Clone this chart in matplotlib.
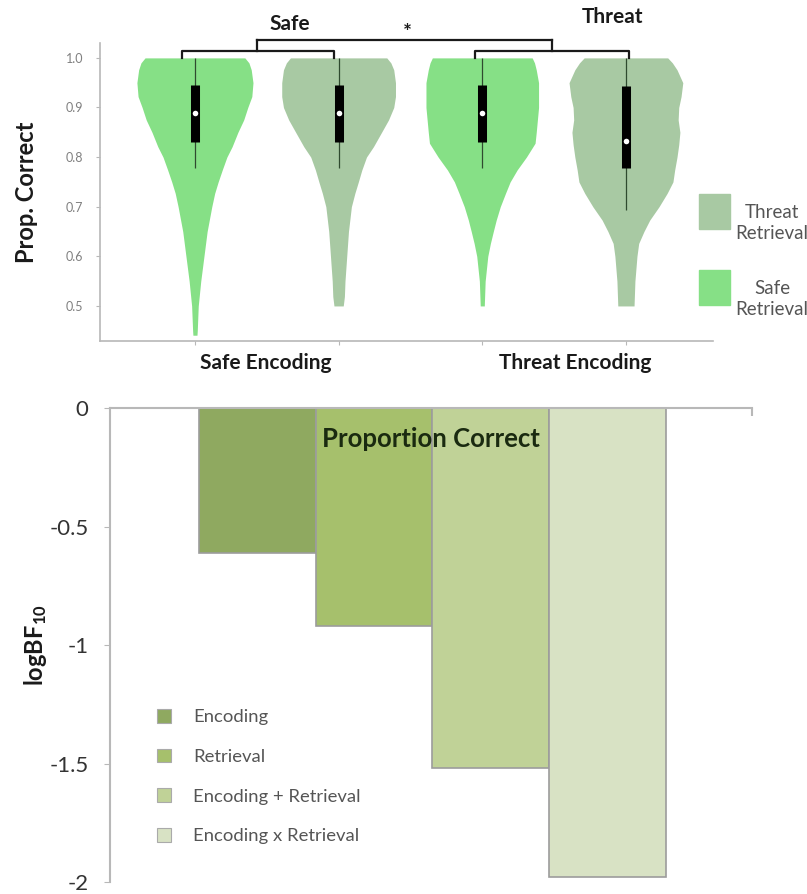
import numpy as np
import matplotlib
matplotlib.use("Agg")
import matplotlib.pyplot as plt
from matplotlib.patches import Patch, Rectangle

plt.rcParams['font.family'] = ['Lato', 'DejaVu Sans']
plt.rcParams['mathtext.default'] = 'regular'

# ---- top panel data: violin profiles (relative half-width at each level)
violin_pos = [1, 2, 3, 4]
violin_cols = ['#86e086', '#a8c9a3', '#86e086', '#a8c9a3']

v1_y = [1.0, 0.99, 0.976, 0.95, 0.922, 0.9, 0.875, 0.85, 0.821, 0.8, 0.774,
        0.75, 0.727, 0.7, 0.65, 0.6, 0.55, 0.5, 0.45, 0.441]
v1_w = [0.86, 0.93, 0.97, 1.0, 0.98, 0.91, 0.84, 0.74, 0.64, 0.55, 0.47,
        0.40, 0.34, 0.29, 0.21, 0.155, 0.10, 0.057, 0.04, 0.035]

v2_y = [1.0, 0.99, 0.976, 0.95, 0.922, 0.9, 0.875, 0.85, 0.821, 0.8, 0.774,
        0.75, 0.727, 0.7, 0.65, 0.6, 0.55, 0.519, 0.5]
v2_w = [0.83, 0.90, 0.95, 0.98, 0.98, 0.95, 0.86, 0.74, 0.60, 0.48, 0.40,
        0.34, 0.28, 0.22, 0.17, 0.14, 0.11, 0.10, 0.08]

v3_y = [1.0, 0.99, 0.976, 0.95, 0.9, 0.875, 0.85, 0.828, 0.8, 0.774, 0.75,
        0.727, 0.7, 0.673, 0.65, 0.626, 0.6, 0.55, 0.5]
v3_w = [0.86, 0.90, 0.93, 0.97, 0.97, 0.95, 0.93, 0.91, 0.76, 0.60, 0.48,
        0.40, 0.31, 0.24, 0.19, 0.14, 0.095, 0.05, 0.035]

v4_y = [1.0, 0.99, 0.976, 0.95, 0.922, 0.9, 0.875, 0.85, 0.825, 0.8, 0.774,
        0.75, 0.727, 0.7, 0.673, 0.65, 0.626, 0.6, 0.55, 0.5]
v4_w = [0.72, 0.80, 0.88, 0.98, 0.95, 0.91, 0.90, 0.93, 0.91, 0.88, 0.84,
        0.81, 0.71, 0.57, 0.41, 0.31, 0.22, 0.19, 0.155, 0.14]

violins = [(v1_y, v1_w), (v2_y, v2_w), (v3_y, v3_w), (v4_y, v4_w)]

# box plot summaries
q1 = [0.831, 0.831, 0.831, 0.778]
q3 = [0.946, 0.946, 0.946, 0.944]
med = [0.888, 0.888, 0.888, 0.833]
wlo = [0.778, 0.778, 0.778, 0.694]
whi = [1.0, 1.0, 1.0, 1.0]

group_labels = ['Safe Encoding', 'Threat Encoding']
top_legend = ['Threat\nRetrieval', 'Safe\nRetrieval']

# ---- bottom panel data
models = ['Encoding', 'Retrieval', 'Encoding + Retrieval', 'Encoding x Retrieval']
logbf = [-0.61, -0.92, -1.52, -1.98]
bar_cols = ['#8fa960', '#a6c06c', '#c0d297', '#d8e2c4']

W, H = 807, 894
fig = plt.figure(figsize=(W / 100, H / 100), dpi=100)

# ================= top: violins
ax = fig.add_axes([0.1239, 0.6186, 0.7596, 0.3333])
half = 0.404
for p, (yy, ww), c in zip(violin_pos, violins, violin_cols):
    ww = np.array(ww) * half
    ax.fill_betweenx(yy, p - ww, p + ww, color=c, lw=0)
ax.vlines(violin_pos, wlo, whi, color='#2f4a2f', lw=0.9, zorder=3)
ax.vlines(violin_pos, q1, q3, color='black', lw=6.5, zorder=4)
ax.scatter(violin_pos, med, s=16, color='white', zorder=5, lw=0)

ax.set_xlim(0.339, 4.606)
ax.set_ylim(0.4294, 1.03)
ax.set_yticks([0.5, 0.6, 0.7, 0.8, 0.9, 1.0])
ax.set_yticklabels(['0.5', '0.6', '0.7', '0.8', '0.9', '1.0'])
ax.set_xticks(violin_pos)
ax.set_xticklabels([])
for s in ['top', 'right']:
    ax.spines[s].set_visible(False)
for s in ['left', 'bottom']:
    ax.spines[s].set_color('#b8b8b8')
    ax.spines[s].set_linewidth(1.2)
ax.tick_params(colors='#b8b8b8', labelcolor='#808080', labelsize=9, length=3)
ax.tick_params(axis='y', pad=9)
ax.set_ylabel('Prop. Correct', fontsize=17, fontweight='bold', labelpad=20,
              color='#1a1a1a')

for x, lab in zip([1.49, 3.645], group_labels):
    ax.text(x, 0.386, lab, ha='center', va='center', fontsize=15,
            fontweight='bold', color='#1a1a1a', clip_on=False)

# significance brackets
kw = dict(color='#1a1a1a', lw=1.6, clip_on=False)
ax.plot([0.91, 0.91, 1.965, 1.965], [1.0, 1.014, 1.014, 1.0], **kw)
ax.plot([1.43, 1.43], [1.014, 1.036], **kw)
ax.plot([2.95, 2.95, 4.02, 4.02], [1.0, 1.014, 1.014, 1.0], **kw)
ax.plot([3.485, 3.485], [1.014, 1.036], **kw)
ax.plot([1.43, 3.485], [1.036, 1.036], **kw)
ax.text(2.48, 1.050, '*', ha='center', va='center', fontsize=15,
        fontweight='bold', color='#1a1a1a')
ax.text(1.66, 1.0685, 'Safe', ha='center', va='center', fontsize=15,
        fontweight='bold', color='#1a1a1a')
ax.text(3.91, 1.0817, 'Threat', ha='center', va='center', fontsize=15,
        fontweight='bold', color='#1a1a1a')

# legend keys for the violins, drawn in figure pixels
key_cols = [violin_cols[1], violin_cols[0]]
for i, (lab, c) in enumerate(zip(top_legend, key_cols)):
    top = 194 + i * 76
    fig.patches.append(Rectangle((699 / W, 1 - (top + 35) / H), 31 / W, 35 / H,
                                 transform=fig.transFigure, color=c))
    fig.text(772 / W, 1 - (top + 29) / H, lab, ha='center', va='center',
             fontsize=13.5, color='#555555', linespacing=1.35)

# ================= bottom: bars
bx = fig.add_axes([0.1363, 0.01342, 0.7955, 0.5302])
xs = np.arange(len(models))
bx.bar(xs, logbf, width=1.0, color=bar_cols, edgecolor='#9c9c9c', lw=1.2)
bx.set_xlim(-1.264, 4.24)
bx.set_ylim(-2, 0)
bx.set_yticks([0, -0.5, -1, -1.5, -2])
bx.set_yticklabels(['0', '-0.5', '-1', '-1.5', '-2'])
bx.spines['bottom'].set_visible(False)
bx.spines['right'].set_visible(False)
for s in ['left', 'top']:
    bx.spines[s].set_color('#b8b8b8')
    bx.spines[s].set_linewidth(1.5)
bx.xaxis.set_ticks_position('top')
bx.set_xticks([4.24])
bx.set_xticklabels([])
bx.tick_params(axis='x', direction='in', length=6, colors='#b8b8b8', width=1.5)
bx.tick_params(axis='y', colors='#b8b8b8', labelcolor='#333333', labelsize=16,
               length=4, pad=11.5)
bx.set_ylabel(r'logBF$_{10}$', fontsize=17, fontweight='bold', labelpad=0,
              color='#1a1a1a')
bx.text(0.5, 0.935, 'Proportion Correct', transform=bx.transAxes, ha='center',
        va='center', fontsize=18.5, fontweight='bold', color='#1a2a10', zorder=10)

lh = [Patch(facecolor=c, edgecolor='#aaaaaa', lw=0.8) for c in bar_cols]
lg = bx.legend(lh, models, loc='upper left', frameon=False,
               bbox_to_anchor=(157 / W, 1 - 709 / H),
               bbox_transform=fig.transFigure, fontsize=13.3,
               handlelength=0.76, handleheight=0.76, handletextpad=1.2,
               labelspacing=1.27, borderpad=0, borderaxespad=0)
for t in lg.get_texts():
    t.set_color('#555555')

fig.savefig('out.png', dpi=100)
